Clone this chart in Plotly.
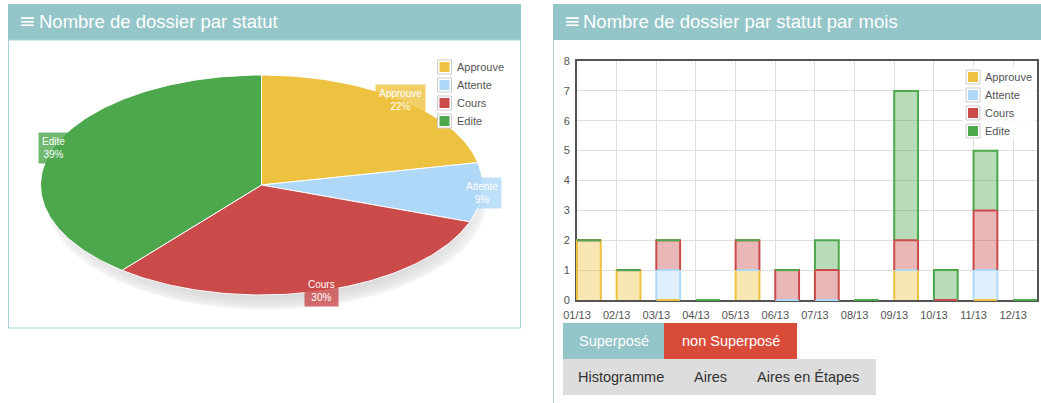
import math
import plotly.graph_objects as go

W, H = 1041, 403

# ---------------- data ----------------
statuses = ["Approuve", "Attente", "Cours", "Edite"]
colors = ["#edc240", "#afd8f8", "#cb4b4b", "#4da74d"]
months = ["01/13", "02/13", "03/13", "04/13", "05/13", "06/13",
          "07/13", "08/13", "09/13", "10/13", "11/13", "12/13"]
approuve = [2, 1, 0, 0, 1, 0, 0, 0, 1, 0, 0, 0]
attente = [0, 0, 1, 0, 0, 0, 0, 0, 0, 0, 1, 0]
cours = [0, 0, 1, 0, 1, 1, 1, 0, 1, 0, 2, 0]
edite = [0, 0, 0, 0, 0, 0, 1, 0, 5, 1, 2, 0]
series = [approuve, attente, cours, edite]
pie_values = [sum(s) for s in series]  # 5, 2, 7, 9

title_left = "Nombre de dossier par statut"
title_right = "Nombre de dossier par statut par mois"
buttons_top = ["Superposé", "non Superposé"]
buttons_bottom = ["Histogramme", "Aires", "Aires en Étapes"]

# ---------------- helpers ----------------
def px(x):
    return x / W

def py(y):
    return 1 - y / H

def rgba(hexc, a):
    hexc = hexc.lstrip("#")
    r, g, b = int(hexc[0:2], 16), int(hexc[2:4], 16), int(hexc[4:6], 16)
    return f"rgba({r},{g},{b},{a})"

FONT = "Liberation Sans, Arial, sans-serif"
HEAD_BG = "#94c5c9"
BORDER = "#a9d2d5"
TXT = "#545454"

# bar chart plot area (pixels) and value ranges
BX0, BX1, BY0, BY1 = 577.0, 1037.0, 300.0, 61.0
XMAX, YMAX = 11.6, 8.0
SX = (BX1 - BX0) / XMAX
SY = (BY0 - BY1) / YMAX
PADP = 3.0  # extra pixels for the unclipped outline subplot

fig = go.Figure()

# ---------------- bar chart (stacked) ----------------
BAR_W = 0.6
bases = [0] * len(months)
outline_data = []
for name, col, vals in zip(statuses, colors, series):
    fig.add_trace(go.Bar(
        x=[i + BAR_W / 2 for i in range(len(months))], y=vals, width=BAR_W,
        marker=dict(color=rgba(col, 0.4), line=dict(width=0)),
        xaxis="x", yaxis="y", showlegend=False, hoverinfo="skip"))
    xs, ys = [], []
    for i, v in enumerate(vals):
        b = bases[i]
        t = b + v
        xs += [i, i, i + BAR_W, i + BAR_W, None]
        ys += [b, t, t, b, None]
        bases[i] = t
    outline_data.append((col, xs, ys))

# ---------------- tilted pie ----------------
CX, CY, RX, RY = 261.5, 185.0, 221.0, 110.0
total = sum(pie_values)

# shadow (flot style)
d = 0
for i in range(1, 11):
    r = 1 - d / RX
    sx, sy = [], []
    for k in range(0, 361, 3):
        a = math.radians(k)
        sx.append(5 / RX + r * math.sin(a))
        sy.append(-15 / RY + r * math.cos(a))
    fig.add_trace(go.Scatter(
        x=sx, y=sy, mode="lines", fill="toself", line=dict(width=0),
        fillcolor="rgba(0,0,0,0.02)", xaxis="x2", yaxis="y2",
        showlegend=False, hoverinfo="skip"))
    d += i

acc = 0
label_pos = []
for name, col, v in zip(statuses, colors, pie_values):
    a0 = acc / total * 2 * math.pi
    acc += v
    a1 = acc / total * 2 * math.pi
    n = max(2, int((a1 - a0) / math.radians(1)))
    wx, wy = [0], [0]
    for k in range(n + 1):
        a = a0 + (a1 - a0) * k / n
        wx.append(math.sin(a))
        wy.append(math.cos(a))
    wx.append(0)
    wy.append(0)
    fig.add_trace(go.Scatter(
        x=wx, y=wy, mode="lines", fill="toself", fillcolor=col,
        line=dict(color="#ffffff", width=1), xaxis="x2", yaxis="y2",
        showlegend=False, hoverinfo="skip"))
    mid = (a0 + a1) / 2
    label_pos.append((name, col, v, math.sin(mid), math.cos(mid)))

# bar outlines (left, top, right edges) on an unclipped overlay subplot
for col, xs, ys in outline_data:
    fig.add_trace(go.Scatter(
        x=xs, y=ys, mode="lines", line=dict(color=col, width=2),
        xaxis="x3", yaxis="y3", showlegend=False, hoverinfo="skip"))

annotations = []
for name, col, v, lx, ly in label_pos:
    annotations.append(dict(
        x=lx, y=ly, xref="x2", yref="y2", showarrow=False,
        xanchor="center", yanchor="middle",
        text=f"{name}<br>{round(100 * v / total)}%",
        font=dict(size=10, color="#ffffff", family=FONT),
        bgcolor=rgba(col, 0.8), borderpad=3, align="center"))

# ---------------- shapes: panels, headers ----------------
shapes = []
shapes.append(dict(type="rect", xref="paper", yref="paper",
                   x0=px(8), x1=px(521), y0=py(40), y1=py(4),
                   fillcolor=HEAD_BG, line=dict(width=0), layer="below"))
shapes.append(dict(type="rect", xref="paper", yref="paper",
                   x0=px(8.5), x1=px(520.5), y0=py(328), y1=py(40),
                   fillcolor="rgba(0,0,0,0)", line=dict(color=BORDER, width=1),
                   layer="below"))
shapes.append(dict(type="rect", xref="paper", yref="paper",
                   x0=px(553), x1=px(1041), y0=py(40), y1=py(4),
                   fillcolor=HEAD_BG, line=dict(width=0), layer="below"))
shapes.append(dict(type="line", xref="paper", yref="paper",
                   x0=px(553.5), x1=px(553.5), y0=py(40), y1=py(403),
                   line=dict(color=BORDER, width=1), layer="below"))

for x_icon, x_txt, t in [(17, 37, title_left), (562, 581, title_right)]:
    annotations.append(dict(x=px(x_icon), y=py(21), xref="paper", yref="paper",
                            xanchor="left", yanchor="middle", showarrow=False,
                            text="≡", font=dict(size=20, color="#ffffff", family="DejaVu Sans")))
    annotations.append(dict(x=px(x_txt), y=py(21), xref="paper", yref="paper",
                            xanchor="left", yanchor="middle", showarrow=False,
                            text=t, font=dict(size=18.5, color="#ffffff", family=FONT)))

# ---------------- legends ----------------
def add_legend(x_box, y_first, with_bg=None):
    if with_bg:
        shapes.append(dict(type="rect", xref="paper", yref="paper",
                           x0=px(with_bg[0]), x1=px(with_bg[1]),
                           y0=py(with_bg[3]), y1=py(with_bg[2]),
                           fillcolor="rgba(255,255,255,0.85)", line=dict(width=0),
                           layer="above"))
    for i, (name, col) in enumerate(zip(statuses, colors)):
        c = y_first + 18 * i
        shapes.append(dict(type="rect", xref="paper", yref="paper",
                           x0=px(x_box), x1=px(x_box + 14), y0=py(c + 7), y1=py(c - 7),
                           fillcolor="#ffffff", line=dict(color="#cccccc", width=1),
                           layer="above"))
        shapes.append(dict(type="rect", xref="paper", yref="paper",
                           x0=px(x_box + 2), x1=px(x_box + 12), y0=py(c + 5), y1=py(c - 5),
                           fillcolor=col, line=dict(width=0), layer="above"))
        annotations.append(dict(x=px(x_box + 17), y=py(c), xref="paper", yref="paper",
                                xanchor="left", yanchor="middle", showarrow=False,
                                text=name, font=dict(size=11, color=TXT, family=FONT)))

add_legend(437.5, 67)
add_legend(966, 77, with_bg=(963, 1036, 66, 139))

# ---------------- buttons ----------------
btn_top_spans = [(563, 664, HEAD_BG), (664, 797, "#d94b39")]
for (x0, x1, bg), label in zip(btn_top_spans, buttons_top):
    shapes.append(dict(type="rect", xref="paper", yref="paper",
                       x0=px(x0), x1=px(x1), y0=py(359), y1=py(323),
                       fillcolor=bg, line=dict(width=0), layer="below"))
    annotations.append(dict(x=px((x0 + x1) / 2), y=py(341), xref="paper", yref="paper",
                            xanchor="center", yanchor="middle",
                            showarrow=False, text=label,
                            font=dict(size=14.5, color="#ffffff", family=FONT)))
shapes.append(dict(type="rect", xref="paper", yref="paper",
                   x0=px(563), x1=px(876), y0=py(395), y1=py(359),
                   fillcolor="#dddddd", line=dict(width=0), layer="below"))
for cx, label in zip([621, 710, 808], buttons_bottom):
    annotations.append(dict(x=px(cx), y=py(377), xref="paper", yref="paper",
                            xanchor="center", yanchor="middle",
                            showarrow=False, text=label,
                            font=dict(size=14.5, color="#333333", family=FONT)))

# ---------------- layout ----------------
fig.update_layout(
    width=W, height=H, autosize=False,
    margin=dict(l=0, r=0, t=0, b=0, pad=0, autoexpand=False),
    paper_bgcolor="#ffffff", plot_bgcolor="rgba(0,0,0,0)",
    barmode="stack", showlegend=False,
    font=dict(family=FONT, color=TXT),
    xaxis=dict(domain=[px(BX0), px(BX1)], range=[0, XMAX],
               tickvals=list(range(len(months))), ticktext=months,
               showgrid=True, gridcolor="#dedede", gridwidth=1, zeroline=False,
               showline=True, mirror=True, linecolor=TXT, linewidth=2,
               ticks="", ticklabelstandoff=4, automargin=False,
               tickfont=dict(size=11, color=TXT, family=FONT),
               layer="below traces", fixedrange=True),
    yaxis=dict(domain=[py(BY0), py(BY1)], range=[0, YMAX], dtick=1, tick0=0,
               showgrid=True, gridcolor="#dedede", gridwidth=1, zeroline=False,
               showline=True, mirror=True, linecolor=TXT, linewidth=2,
               ticks="", ticklabelstandoff=3, automargin=False,
               tickfont=dict(size=11, color=TXT, family=FONT),
               layer="below traces", fixedrange=True),
    xaxis2=dict(domain=[px(9), px(520)],
                range=[(9 - CX) / RX, (520 - CX) / RX],
                visible=False, fixedrange=True, automargin=False),
    yaxis2=dict(domain=[py(327), py(41)],
                range=[(CY - 327) / RY, (CY - 41) / RY],
                visible=False, fixedrange=True, automargin=False),
    xaxis3=dict(domain=[px(BX0 - PADP), px(BX1 + PADP)],
                range=[-PADP / SX, XMAX + PADP / SX], anchor="y3",
                visible=False, fixedrange=True, automargin=False),
    yaxis3=dict(domain=[py(BY0 + PADP), py(BY1 - PADP)],
                range=[-PADP / SY, YMAX + PADP / SY], anchor="x3",
                visible=False, fixedrange=True, automargin=False),
    shapes=shapes, annotations=annotations,
)

fig.write_html("out.html", config={"responsive": False, "displayModeBar": False})
